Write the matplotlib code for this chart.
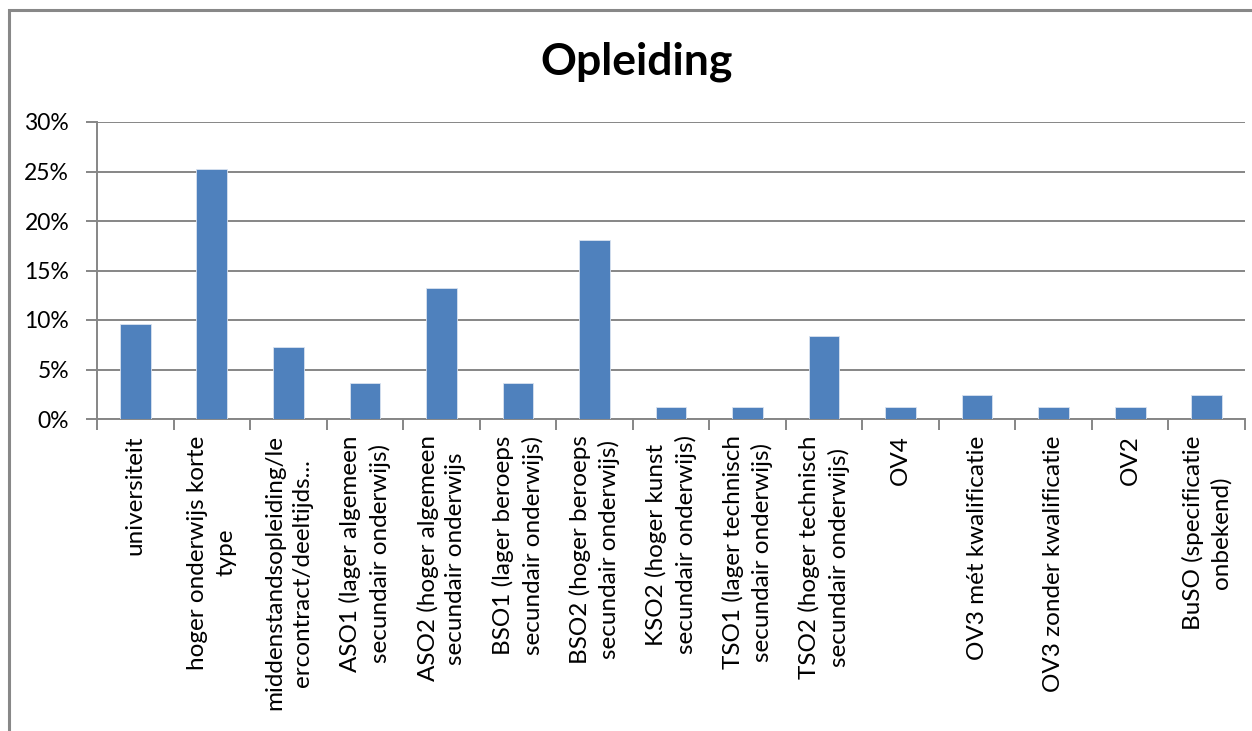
import matplotlib
matplotlib.use("Agg")
import matplotlib.pyplot as plt
from matplotlib.ticker import FuncFormatter, MultipleLocator
from matplotlib.patches import Rectangle

categories = [
    "universiteit",
    "hoger onderwijs korte\ntype",
    "middenstandsopleiding/le\nercontract/deeltijds...",
    "ASO1 (lager algemeen\nsecundair onderwijs)",
    "ASO2 (hoger algemeen\nsecundair onderwijs",
    "BSO1 (lager beroeps\nsecundair onderwijs)",
    "BSO2 (hoger beroeps\nsecundair onderwijs)",
    "KSO2 (hoger kunst\nsecundair onderwijs)",
    "TSO1 (lager technisch\nsecundair onderwijs)",
    "TSO2 (hoger technisch\nsecundair onderwijs)",
    "OV4",
    "OV3 mét kwalificatie",
    "OV3 zonder kwalificatie",
    "OV2",
    "BuSO (specificatie\nonbekend)",
]
shares = [9.64, 25.30, 7.23, 3.61, 13.25, 3.61, 18.07, 1.20, 1.20, 8.43,
          1.20, 2.41, 1.20, 1.20, 2.41]
title = "Opleiding"

plt.rcParams["font.family"] = ["Lato", "DejaVu Sans"]

W, H = 1252, 731
fig = plt.figure(figsize=(W / 100, H / 100), dpi=100)
ax = fig.add_axes([97 / W, 1 - 419 / H, (1245 - 97) / W, (419 - 122) / H])

grid_c = "#868686"
bar_c = "#4F81BD"

x = list(range(len(categories)))
ax.bar(x, shares, width=0.4, color=bar_c, edgecolor="#D9E2F0", linewidth=0.6, zorder=3)

ax.set_xlim(-0.5, len(categories) - 0.5)
ax.set_ylim(0, 30)
ax.yaxis.set_major_locator(MultipleLocator(5))
ax.yaxis.set_major_formatter(FuncFormatter(lambda v, p: f"{v:.0f}%"))
ax.yaxis.grid(True, color=grid_c, linewidth=1.4, zorder=0)

for side in ("top", "right"):
    ax.spines[side].set_visible(False)
ax.spines["left"].set_color(grid_c)
ax.spines["bottom"].set_color(grid_c)
ax.spines["left"].set_linewidth(1.4)
ax.spines["bottom"].set_linewidth(1.4)

ax.tick_params(axis="y", length=8, color=grid_c, width=1.4, labelsize=16.5,
               pad=12, labelcolor="#000000")
ax.set_xticks([i - 0.5 for i in range(len(categories) + 1)])
ax.set_xticklabels([])
ax.tick_params(axis="x", length=8, color=grid_c, width=1.4, direction="out")

for i, lab in enumerate(categories):
    ax.text(i, -0.055, lab, transform=ax.get_xaxis_transform(), rotation=90,
            ha="center", va="top", multialignment="center", fontsize=17.5,
            linespacing=1.4, color="#000000")

fig.text(637 / W, 1 - 75 / H, title, ha="center", va="baseline",
         fontsize=32, fontweight="bold", color="#000000")

# Outer chart frame
fig.patches.append(Rectangle((9 / W, -0.05), 1.1, 1 - 10 / H + 0.05,
                             transform=fig.transFigure, fill=False,
                             edgecolor="#888888", linewidth=2.2))

fig.savefig("out.png", dpi=100)
